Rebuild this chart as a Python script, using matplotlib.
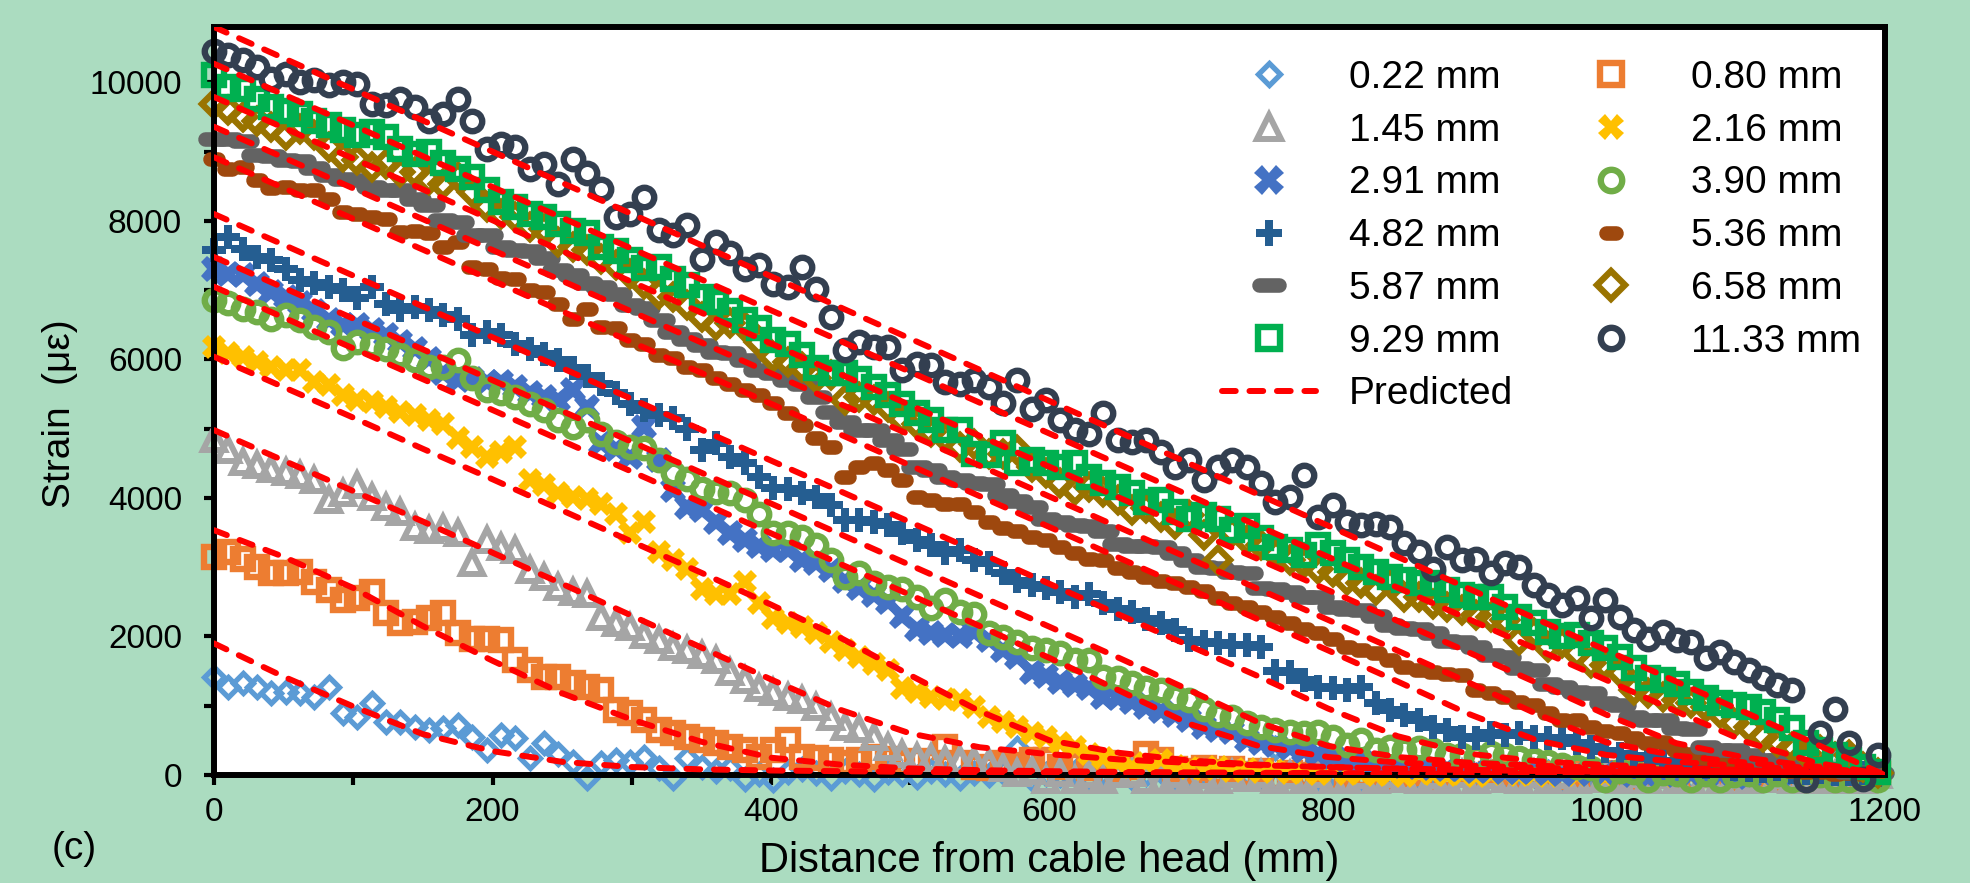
import numpy as np
import matplotlib
matplotlib.use("Agg")
import matplotlib.pyplot as plt
from matplotlib.markers import MarkerStyle
from matplotlib.ticker import MultipleLocator

plt.rcParams["font.family"] = ["Liberation Sans", "DejaVu Sans"]

# sensor positions along the cable (mm), one reading every 10.3 mm
dist = np.arange(117) * 10.3
# predicted curves are given every 50 mm
pred_x = np.arange(0, 1201, 50)

labels = ["0.22 mm", "0.80 mm", "1.45 mm", "2.16 mm", "2.91 mm", "3.90 mm",
          "4.82 mm", "5.36 mm", "5.87 mm", "6.58 mm", "9.29 mm", "11.33 mm"]

s022 = [1420, 1275, 1325, 1275, 1180, 1200, 1180, 1130, 1275, 890,
        840, 1035, 770, 770, 700, 650, 675, 720, 555, 360,
        575, 530, 240, 455, 310, 190, -50, 170, 215, 190,
        265, 95, -50, 240, 120, 60, 100, -60, 20, -70,
        50, 80, 30, -40, 60, 20, -60, 40, 10, -30,
        60, 20, -50, 30, 0, 40, 385, -60, 20, 0,
        50, -40, 30, 10, -50, 20, 60, -30, 0, 40,
        -60, 20, 10, -40, 385, 20, 0, -50, 30, 10,
        -40, 20, 0, 50, -30, 10, -60, 20, 0, 30,
        -50, 10, 0, 40, -40, 20, 0, -60, 10, 30,
        -30, 0, 20, -50, 10, 0, 30, -40, 10, 0,
        -50, 20, 0, 200, -40, 10, 0]
s080 = [3150, 3220, 3125, 3005, 2910, 2910, 2935, 2790, 2670, 2525,
        2550, 2645, 2335, 2190, 2210, 2260, 2335, 2045, 1970, 1960,
        1950, 1660, 1515, 1420, 1420, 1325, 1275, 1225, 940, 890,
        795, 650, 600, 550, 505, 455, 410, 360, 265, 360,
        505, 265, 240, 215, 170, 215, 265, 230, 170, 200,
        170, 410, 170, 120, 100, 170, 140, 215, 215, 120,
        150, 100, 170, 80, 120, 310, 215, 90, 60, 100,
        40, 80, 20, 60, -50, 30, 0, 40, -60, 20,
        0, 50, -40, 10, 30, -60, 0, 20, -30, 10,
        40, -50, 0, 20, -30, 10, -60, 0, 30, -40,
        10, 0, 20, -60, 0, 30, -40, 10, 0, -50,
        20, 0, -30, 10, 0, -40, 10]
s145 = [4850, 4690, 4520, 4475, 4425, 4380, 4330, 4255, 3970, 4065,
        4185, 4015, 3870, 3800, 3585, 3535, 3560, 3490, 3055, 3390,
        3295, 3245, 2960, 2860, 2715, 2645, 2620, 2285, 2190, 2140,
        2020, 1950, 1850, 1800, 1730, 1660, 1490, 1370, 1250, 1200,
        1130, 1080, 985, 840, 700, 670, 550, 410, 310, 265,
        240, 220, 215, 200, 170, 95, 25, 60, -70, 30,
        -70, 20, -70, 10, 30, -70, -70, 20, -70, 0,
        -70, 10, -50, 20, -70, 0, -70, 10, -70, -70,
        0, -70, 10, -60, -70, 0, -70, 10, -70, 0,
        -60, -70, 10, -70, 0, -70, -60, 0, -70, 10,
        -70, 0, -70, -70, 10, -70, 0, -70, -60, 0,
        -70, 10, -70, 0, -70, -70, 0]
s216 = [6180, 6100, 6040, 5965, 5895, 5850, 5845, 5675, 5630, 5480,
        5420, 5380, 5320, 5240, 5195, 5120, 5075, 4860, 4740, 4590,
        4665, 4740, 4255, 4185, 4065, 4015, 3990, 3920, 3775, 3490,
        3655, 3225, 3100, 2980, 2690, 2620, 2620, 2790, 2480, 2260,
        2190, 2140, 2045, 1925, 1800, 1700, 1600, 1515, 1250, 1200,
        1130, 1100, 1080, 985, 840, 760, 700, 600, 550, 455,
        400, 310, 250, 170, 120, 180, 215, 130, 100, 80,
        120, 60, 90, 40, 70, 30, 50, 20, 60, 10,
        30, 0, 20, -10, 30, 10, 0, 20, -20, 10,
        30, 0, 20, -10, 10, 0, 20, -20, 10, 0,
        20, -10, 10, 0, -20, 10, 0, 20, -10, 0,
        10, -20, 0, 10, -10, 0, 10]
s291 = [7310, 7240, 7215, 7095, 6975, 6900, 6810, 6700, 6565, 6500,
        6495, 6420, 6350, 6250, 6150, 6000, 5800, 5700, 5720, 5680,
        5675, 5600, 5520, 5460, 5410, 5555, 5315, 4790, 4700, 4595,
        5025, 4545, 4110, 3870, 3825, 3650, 3490, 3400, 3300, 3250,
        3250, 3100, 3055, 2960, 2800, 2700, 2600, 2500, 2300, 2115,
        2045, 2020, 2000, 2070, 1950, 1800, 1705, 1490, 1430, 1345,
        1300, 1250, 1130, 1105, 1050, 985, 930, 865, 795, 700,
        650, 625, 505, 455, 440, 385, 350, 300, 260, 220,
        200, 180, 150, 130, 110, 100, 90, 80, 60, 70,
        50, 40, 60, 30, 20, 40, 10, 30, 0, 20,
        -30, 10, 0, 20, -20, 10, 0, -30, 10, 0,
        -20, 10, 0, -30, 0, 10, -20]
s390 = [6855, 6810, 6735, 6685, 6590, 6640, 6565, 6470, 6400, 6160,
        6250, 6205, 6155, 6060, 5990, 5895, 5890, 5990, 5725, 5555,
        5510, 5460, 5360, 5270, 5120, 5025, 5120, 4930, 4810, 4740,
        4715, 4545, 4355, 4280, 4135, 4090, 4065, 3970, 3775, 3490,
        3490, 3440, 3320, 3100, 2860, 2910, 2765, 2715, 2690, 2570,
        2405, 2525, 2355, 2330, 2045, 1995, 1925, 1830, 1805, 1755,
        1660, 1660, 1420, 1395, 1325, 1250, 1225, 1130, 1080, 960,
        865, 840, 745, 700, 650, 625, 600, 625, 555, 435,
        505, 360, 410, 360, 385, 360, 290, 290, 265, 315,
        290, 240, 220, 190, 150, 120, 100, -70, 60, 40,
        -70, 30, 20, -70, 10, -70, 0, 20, -70, 10,
        -70, -70, 0, -70, -70, 0, -70]
s482 = [7580, 7770, 7600, 7480, 7430, 7310, 7140, 7100, 7050, 7000,
        6880, 7050, 6800, 6710, 6760, 6710, 6640, 6590, 6350, 6400,
        6360, 6230, 6150, 6085, 5990, 5870, 5760, 5650, 5510, 5360,
        5270, 5195, 5150, 5000, 4690, 4790, 4590, 4500, 4300, 4140,
        4135, 4065, 4015, 3895, 3680, 3680, 3655, 3605, 3490, 3390,
        3320, 3200, 3245, 3100, 3055, 2910, 2800, 2740, 2695, 2645,
        2575, 2620, 2480, 2400, 2350, 2250, 2200, 2100, 1950, 1920,
        1900, 1880, 1870, 1850, 1500, 1480, 1370, 1275, 1250, 1230,
        1275, 1035, 940, 865, 795, 700, 650, 555, 530, 600,
        580, 600, 555, 540, 530, 460, 400, 350, 300, 280,
        250, 200, 180, 150, 120, 130, 90, 70, 60, 80,
        40, 30, 50, 20, 10, 30, 0]
s536 = [8900, 8755, 8780, 8590, 8470, 8490, 8450, 8440, 8320, 8130,
        8105, 8060, 8035, 7840, 7850, 7820, 7625, 7700, 7340, 7310,
        7170, 7160, 7000, 6975, 6800, 6590, 6735, 6470, 6450, 6280,
        6230, 6060, 6015, 5895, 5845, 5725, 5650, 5555, 5485, 5365,
        5220, 5050, 4860, 4740, 4305, 4450, 4500, 4400, 4260, 4020,
        3970, 3920, 3920, 3800, 3655, 3560, 3520, 3440, 3400, 3295,
        3200, 3125, 3100, 2990, 2930, 2860, 2800, 2765, 2715, 2650,
        2550, 2480, 2420, 2350, 2280, 2200, 2115, 2045, 1960, 1850,
        1800, 1755, 1660, 1560, 1515, 1490, 1465, 1440, 1230, 1180,
        1130, 1060, 1010, 890, 800, 790, 700, 630, 600, 530,
        460, 480, 360, 310, 250, 200, 180, 120, 100, 80,
        60, 40, 50, 20, 30, 10, 0]
s587 = [9190, 9190, 9150, 8950, 8940, 8880, 8870, 8760, 8660, 8600,
        8590, 8490, 8450, 8440, 8320, 8230, 8010, 7990, 7800, 7790,
        7630, 7580, 7570, 7460, 7290, 7220, 7100, 7050, 6950, 6790,
        6740, 6570, 6400, 6300, 6210, 6110, 6090, 5990, 5850, 5800,
        5700, 5650, 5460, 5240, 5100, 4980, 4980, 4840, 4700, 4450,
        4400, 4300, 4260, 4210, 4200, 4040, 3950, 3870, 3700, 3650,
        3610, 3600, 3530, 3340, 3300, 3300, 3290, 3200, 3100, 3010,
        2990, 2930, 2910, 2700, 2690, 2645, 2575, 2570, 2430, 2400,
        2380, 2290, 2170, 2120, 2110, 2045, 1930, 1920, 1850, 1730,
        1710, 1540, 1515, 1320, 1275, 1205, 1180, 1035, 1010, 840,
        795, 790, 675, 670, 410, 365, 360, 290, 215, 215,
        145, 140, 90, 70, 50, 45, 30]
s658 = [9690, 9595, 9500, 9450, 9355, 9235, 9330, 9235, 9065, 8925,
        8875, 8780, 8825, 8705, 8700, 8585, 8540, 8635, 8420, 8200,
        8105, 8055, 7915, 7890, 7695, 7625, 7575, 7455, 7360, 7240,
        7095, 6950, 6905, 6780, 6615, 6495, 6520, 6470, 6255, 6035,
        5965, 5895, 5725, 5770, 5410, 5460, 5410, 5315, 5145, 5075,
        4955, 4880, 4735, 4785, 4640, 4640, 4690, 4450, 4355, 4210,
        4110, 4160, 4090, 3970, 3825, 3850, 3730, 3630, 3750, 3465,
        3100, 3510, 3390, 3320, 3200, 3100, 3055, 2980, 2935, 2815,
        2765, 2670, 2765, 2575, 2575, 2475, 2430, 2380, 2310, 2285,
        2235, 1950, 2045, 1850, 1900, 1755, 1610, 1590, 1490, 1225,
        1180, 1130, 1085, 1035, 985, 890, 745, 700, 555, 480,
        410, 315, 360, 265, 290, 120, 25]
s929 = [10100, 9930, 9900, 9760, 9640, 9590, 9540, 9450, 9380, 9310,
        9240, 9290, 9210, 9040, 8970, 8990, 8830, 8750, 8630, 8440,
        8270, 8200, 8100, 8060, 7960, 7850, 7820, 7620, 7560, 7430,
        7320, 7340, 7160, 7070, 6900, 6830, 6700, 6570, 6450, 6280,
        6230, 6060, 5870, 5800, 5800, 5720, 5600, 5480, 5360, 5220,
        5120, 4980, 4980, 4640, 4620, 4790, 4500, 4545, 4500, 4450,
        4500, 4300, 4210, 4160, 4065, 3945, 3970, 3800, 3700, 3750,
        3700, 3535, 3600, 3415, 3295, 3250, 3175, 3320, 3200, 3100,
        3005, 2935, 2860, 2815, 2765, 2765, 2670, 2600, 2575, 2575,
        2430, 2285, 2190, 2070, 2000, 2020, 1900, 1830, 1700, 1540,
        1395, 1370, 1320, 1200, 1110, 1035, 1010, 985, 915, 795,
        675, 455, 360, 290, 215, 120, 40]
s1133 = [10460, 10390, 10320, 10220, 10050, 10125, 10005, 10030, 9960, 10005,
         9980, 9690, 9670, 9765, 9645, 9450, 9550, 9765, 9450, 9045,
         9115, 9065, 8755, 8825, 8540, 8900, 8685, 8465, 8055, 8105,
         8345, 7865, 7795, 7935, 7455, 7695, 7530, 7310, 7360, 7095,
         7045, 7335, 7020, 6615, 6130, 6255, 6180, 6180, 5845, 5940,
         5915, 5675, 5650, 5700, 5605, 5365, 5700, 5290, 5410, 5120,
         4980, 4930, 5220, 4835, 4810, 4835, 4665, 4450, 4545, 4255,
         4450, 4545, 4450, 4210, 3945, 4015, 4330, 3730, 3895, 3655,
         3610, 3630, 3585, 3345, 3225, 2980, 3295, 3105, 3125, 2910,
         3055, 3005, 2740, 2600, 2455, 2550, 2260, 2525, 2285, 2095,
         1970, 2070, 1950, 1925, 1685, 1780, 1635, 1515, 1395, 1300,
         1225, -70, 600, 960, 455, -60, 290]

p022 = [1900, 1420, 990, 590, 345, 190, 115, 82, 65, 55, 45, 40, 35,
        30, 27, 24, 21, 18, 15, 12, 10, 7, 5, 2, 0]
p080 = [3535, 3150, 2700, 2150, 1650, 1180, 800, 480, 250, 150, 95, 70, 55,
        45, 38, 32, 27, 22, 18, 14, 11, 8, 5, 2, 0]
p145 = [4980, 4540, 4100, 3660, 3210, 2760, 2300, 1840, 1380, 940, 600, 400, 300,
        225, 175, 140, 115, 92, 75, 60, 48, 36, 24, 12, 0]
p216 = [6040, 5600, 5160, 4710, 4270, 3820, 3370, 2920, 2460, 1980, 1440, 920, 500,
        320, 210, 150, 115, 92, 75, 60, 48, 36, 24, 12, 0]
p291 = [7480, 7035, 6590, 6145, 5700, 5255, 4810, 4365, 3920, 3475, 3030, 2585, 2140,
        1690, 1230, 760, 420, 260, 180, 135, 100, 75, 50, 25, 0]
p390 = [7050, 6605, 6160, 5715, 5270, 4825, 4380, 3935, 3490, 3045, 2600, 2150, 1690,
        1220, 740, 420, 260, 180, 135, 105, 82, 62, 42, 20, 0]
p482 = [8100, 7655, 7210, 6765, 6320, 5875, 5430, 4985, 4540, 4095, 3650, 3205, 2760,
        2315, 1870, 1425, 960, 560, 310, 200, 145, 105, 70, 35, 0]
p536 = [8920, 8475, 8030, 7585, 7140, 6695, 6250, 5805, 5360, 4915, 4470, 4025, 3580,
        3135, 2690, 2245, 1800, 1350, 890, 500, 290, 190, 130, 65, 0]
p587 = [9360, 8915, 8470, 8025, 7580, 7135, 6690, 6245, 5800, 5355, 4910, 4465, 4020,
        3575, 3130, 2685, 2240, 1795, 1345, 880, 470, 280, 180, 90, 0]
p658 = [9790, 9345, 8900, 8455, 8010, 7565, 7120, 6675, 6230, 5785, 5340, 4895, 4450,
        4005, 3560, 3115, 2670, 2225, 1780, 1330, 870, 460, 250, 120, 0]
p929 = [10270, 9825, 9380, 8935, 8490, 8045, 7600, 7155, 6710, 6265, 5820, 5375, 4930,
        4485, 4040, 3595, 3150, 2705, 2260, 1815, 1370, 920, 480, 180, 0]
p1133 = [10800, 10350, 9900, 9450, 9000, 8550, 8100, 7650, 7200, 6750, 6300, 5850, 5400,
         4950, 4500, 4050, 3600, 3150, 2700, 2250, 1800, 1350, 900, 450, 0]

measured = [s022, s080, s145, s216, s291, s390, s482, s536, s587, s658, s929, s1133]
predicted = [p022, p080, p145, p216, p291, p390, p482, p536, p587, p658, p929, p1133]

pill = MarkerStyle("_", capstyle="round")
styles = [
    dict(marker="D", ms=10.5, mew=3.8, mfc="none", mec="#5B9BD5"),
    dict(marker="s", ms=14.0, mew=4.6, mfc="none", mec="#ED7D31"),
    dict(marker="^", ms=16.0, mew=4.3, mfc="none", mec="#A5A5A5"),
    dict(marker="X", ms=17.0, mew=0, mfc="#FFC000", mec="#FFC000"),
    dict(marker="X", ms=19.0, mew=0, mfc="#4472C4", mec="#4472C4"),
    dict(marker="o", ms=14.0, mew=4.6, mfc="none", mec="#70AD47"),
    dict(marker="P", ms=17.0, mew=0, mfc="#255E91", mec="#255E91"),
    dict(marker=pill, ms=6.0, mew=10.5, mec="#9E480E"),
    dict(marker=pill, ms=13.0, mew=10.5, mec="#636363"),
    dict(marker="D", ms=12.5, mew=4.6, mfc="none", mec="#997300"),
    dict(marker="s", ms=14.0, mew=4.6, mfc="none", mec="#00B050"),
    dict(marker="o", ms=14.0, mew=4.6, mfc="none", mec="#333F50"),
]

fig = plt.figure(figsize=(19.7, 8.83), dpi=100, facecolor="#abdcc0")
ax = fig.add_axes([214 / 1970, 1 - 775 / 883, 1671 / 1970, 748 / 883])
ax.set_facecolor("white")

handles = []
for vals, lab, st in zip(measured, labels, styles):
    h, = ax.plot(dist, vals, ls="none", label=lab, clip_on=False, zorder=2, **st)
    handles.append(h)
for p in predicted:
    hp, = ax.plot(pred_x, p, color="red", lw=4.3, ls=(0, (2.3, 2.3)),
                  dash_capstyle="round", zorder=3)
hp.set_label("Predicted")

ax.set_xlim(0, 1200)
ax.set_ylim(0, 10800)
ax.xaxis.set_major_locator(MultipleLocator(200))
ax.xaxis.set_minor_locator(MultipleLocator(100))
ax.yaxis.set_major_locator(MultipleLocator(2000))
ax.yaxis.set_minor_locator(MultipleLocator(1000))
ax.tick_params(which="both", direction="out", length=7, width=3, color="black")
ax.tick_params(axis="x", which="major", labelsize=24, pad=9)
ax.tick_params(axis="y", which="major", labelsize=24, pad=16)
for sp in ax.spines.values():
    sp.set_linewidth(4.3)
    sp.set_color("black")

ax.set_xlabel("Distance from cable head (mm)", fontsize=30)
ax.xaxis.set_label_coords(0.5, -0.1297)
ax.xaxis.label.set_va("baseline")
ax.set_ylabel("Strain  (με)", fontsize=28)
ax.yaxis.set_label_coords(-0.0922, 0.483)
ax.yaxis.label.set_va("center")

fig.text(74 / 1970, 1 - 849 / 883, "(c)", fontsize=28, ha="center", va="center")

# legend is filled row by row in the original, matplotlib fills columns
order = [0, 2, 4, 6, 8, 10, 1, 3, 5, 7, 9, 11]
leg_h = [handles[i] for i in order[:6]] + [hp] + [handles[i] for i in order[6:]]
leg = ax.legend(handles=leg_h, ncol=2, fontsize=28, frameon=False,
                loc="upper left", bbox_to_anchor=(1222 / 1970, 1 - 60 / 883),
                bbox_transform=fig.transFigure, borderaxespad=0, borderpad=0,
                handlelength=2.42, handletextpad=0.85, columnspacing=1.3,
                labelspacing=0.43, markerscale=1.1, numpoints=1)

fig.savefig("out.png", dpi=100, facecolor=fig.get_facecolor())
